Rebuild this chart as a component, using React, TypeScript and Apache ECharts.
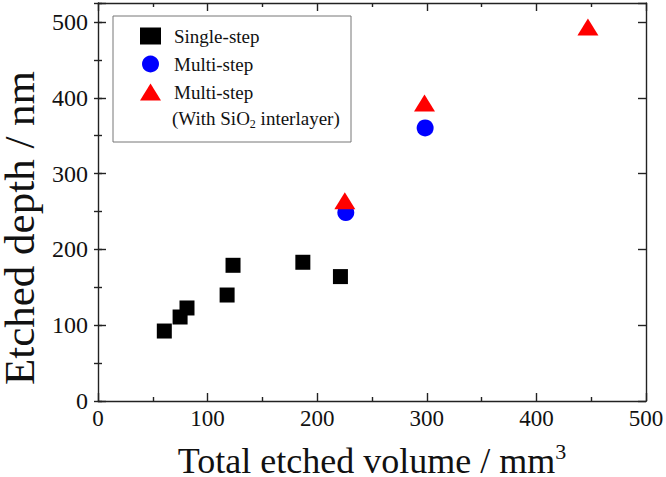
import React, { useEffect, useRef } from "react";
import * as echarts from "echarts";

const singleX = [60.5, 74.9, 81.2, 117.8, 123.2, 186.9, 221.2];
const singleY = [92.3, 110.8, 122.7, 139.8, 179, 183, 164.1];
const multiX = [226.1, 298.5];
const multiY = [248.5, 360.2];
const sioX = [225.2, 297.9, 447];
const sioY = [264, 393, 493.4];

const xTicks = [0, 100, 200, 300, 400, 500];
const yTicks = [0, 100, 200, 300, 400, 500];

const FONT = "Liberation Serif";

const zip = (xs: number[], ys: number[]) => xs.map((x, i) => [x, ys[i]]);

export default function App() {
  const ref = useRef<HTMLDivElement>(null);
  useEffect(() => {
    if (!ref.current) return;
    const chart = echarts.init(ref.current, undefined, { renderer: "svg" });
    const lineStyle = { color: "#222", width: 1.4 };
    const yLabelFmt = (v: number) => (yTicks.includes(v) ? String(v) : "");
    const xLabelFmt = (v: number) => (xTicks.includes(v) ? String(v) : "");
    const baseX = {
      type: "value",
      min: 0,
      max: 500,
      interval: 100,
      splitLine: { show: false },
      axisLine: { show: true, onZero: false, lineStyle },
      axisTick: { show: true, inside: true, length: 8, lineStyle },
      minorTick: { show: true, splitNumber: 2, length: 4, lineStyle },
      minorSplitLine: { show: false },
    };
    const baseY = {
      type: "value",
      min: 0,
      max: 525,
      splitLine: { show: false },
    };
    chart.setOption({
      animation: false,
      backgroundColor: "#fff",
      grid: { left: 98, right: 20, top: 3, bottom: 76, containLabel: false, outerBoundsMode: "none" },
      xAxis: [
        {
          ...baseX,
          position: "bottom",
          axisLabel: {
            formatter: xLabelFmt,
            fontFamily: FONT,
            fontSize: 23,
            color: "#111",
            margin: 6,
          },
          name: "{t|Total etched volume / mm}{sup|3}",
          nameLocation: "middle",
          nameGap: 31,
          nameTextStyle: {
            fontFamily: FONT,
            fontSize: 36,
            color: "#111",
            rich: {
              t: { fontFamily: FONT, fontSize: 36, lineHeight: 32, padding: [8, 0, 0, 0], color: "#111" },
              sup: { fontFamily: FONT, fontSize: 22, verticalAlign: "top", lineHeight: 18, color: "#111" },
            },
          },
        },
        {
          ...baseX,
          position: "top",
          axisLabel: { show: false },
        },
      ],
      yAxis: [
        {
          ...baseY,
          position: "left",
          interval: 100,
          axisLine: { show: true, onZero: false, lineStyle },
          axisTick: { show: true, inside: true, length: 8, lineStyle },
          axisLabel: {
            formatter: yLabelFmt,
            fontFamily: FONT,
            fontSize: 24,
            color: "#111",
            margin: 10,
          },
          name: "Etched depth / nm",
          nameLocation: "middle",
          nameGap: 54,
          nameTextStyle: {
            fontFamily: FONT,
            fontSize: 43,
            lineHeight: 40,
            color: "#111",
            padding: [0, 52, 0, 0],
          },
        },
        {
          ...baseY,
          position: "left",
          offset: 0,
          interval: 50,
          axisLine: { show: false },
          axisTick: { show: true, inside: true, length: 4, lineStyle },
          axisLabel: { show: false },
        },
        {
          ...baseY,
          position: "right",
          interval: 100,
          axisLine: { show: true, onZero: false, lineStyle },
          axisTick: { show: true, inside: true, length: 8, lineStyle },
          axisLabel: { show: false },
        },
        {
          ...baseY,
          position: "right",
          offset: 0,
          interval: 50,
          axisLine: { show: false },
          axisTick: { show: true, inside: true, length: 4, lineStyle },
          axisLabel: { show: false },
        },
      ],
      legend: {
        orient: "vertical",
        left: 140,
        top: 26,
        padding: 0,
        itemGap: 8,
        itemWidth: 21,
        itemHeight: 17,
        data: ["Single-step", "Multi-step", "Multi-step SiO2"],
        formatter: (name: string) => (name === "Multi-step SiO2" ? "Multi-step" : name),
        textStyle: {
          fontFamily: FONT,
          fontSize: 19,
          color: "#111",
          lineHeight: 20,
          padding: [0, 0, 0, 8],
        },
      },
      graphic: [
        {
          type: "rect",
          shape: { x: 113, y: 16, width: 238, height: 126 },
          style: { fill: "none", stroke: "#777", lineWidth: 1 },
          silent: true,
        },
        {
          type: "text",
          x: 172,
          y: 106,
          style: {
            text: "(With SiO{sub|2} interlayer)",
            fontFamily: FONT,
            fontSize: 19,
            lineHeight: 24,
            fill: "#111",
            rich: {
              sub: { fontFamily: FONT, fontSize: 12, lineHeight: 12, verticalAlign: "bottom", fill: "#111" },
            },
          },
        },
      ],
      series: [
        {
          name: "Single-step",
          type: "scatter",
          symbol: "rect",
          symbolSize: 15,
          itemStyle: { color: "#000", opacity: 1 },
          data: zip(singleX, singleY),
        },
        {
          name: "Multi-step",
          type: "scatter",
          symbol: "circle",
          symbolSize: 17,
          itemStyle: { color: "#0000ff", opacity: 1 },
          data: zip(multiX, multiY),
        },
        {
          name: "Multi-step SiO2",
          type: "scatter",
          symbol: "triangle",
          symbolSize: [21, 17],
          itemStyle: { color: "#ff0000", opacity: 1 },
          data: zip(sioX, sioY),
        },
      ],
    });
    return () => chart.dispose();
  }, []);
  return <div ref={ref} style={{ width: 666, height: 477, position: "absolute", left: 0, top: 0 }} />;
}
